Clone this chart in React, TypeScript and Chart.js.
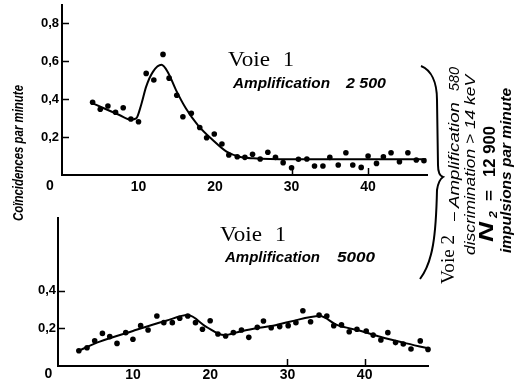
import React, { useEffect, useRef } from "react";
import { Chart, registerables } from "chart.js";

Chart.register(...registerables);

// ---------- Data ----------
// Top panel: Voie 1, Amplification 2 500
const topPointsX = [4, 5, 6, 7, 8, 9, 10, 11, 12, 13.2, 14, 15, 15.8, 16.9, 18, 18.9, 19.9, 20.9, 21.8, 22.9, 23.9, 24.9,
  25.9, 26.9, 27.9, 28.9, 30, 30.9, 32, 33, 34.1, 35, 36.1, 37.1, 38, 39.1, 40, 41.1, 42, 43, 44.1, 45.2, 46.3, 47.3];
const topPointsY = [0.383, 0.346, 0.363, 0.33, 0.354, 0.295, 0.28, 0.535, 0.5, 0.635, 0.51, 0.42, 0.307, 0.325, 0.25, 0.196, 0.216, 0.163, 0.105, 0.096, 0.093, 0.109,
  0.084, 0.12, 0.093, 0.065, 0.038, 0.083, 0.084, 0.047, 0.047, 0.093, 0.053, 0.117, 0.053, 0.04, 0.1, 0.061, 0.096, 0.117, 0.07, 0.117, 0.079, 0.075];
const topFitX = [4, 7.5, 9, 9.7, 10.35, 11, 11.9, 13, 13.8, 14.9, 16.2, 17.75, 19.7, 21.5, 23.2, 25, 30, 47.6];
const topFitY = [0.377, 0.316, 0.292, 0.298, 0.37, 0.465, 0.544, 0.58, 0.544, 0.447, 0.35, 0.263, 0.184, 0.123, 0.096, 0.088, 0.083, 0.083];

// Bottom panel: Voie 1, Amplification 5000
const botPointsX = [3, 4.06, 5.05, 6.05, 7, 7.94, 9.07, 10, 11, 11.96, 13.1, 14, 15.1, 16.06, 17.1, 18.1, 19, 20, 21, 22, 23, 24.05, 25, 26.1,
  26.9, 27.9, 29, 30.1, 31.1, 32, 33, 34.1, 35.1, 36, 37, 38, 39, 40.2, 41.1, 42.1, 43, 44, 45, 46, 47.2, 48.2];
const botPointsY = [0.081, 0.097, 0.134, 0.173, 0.156, 0.12, 0.177, 0.142, 0.214, 0.191, 0.265, 0.23, 0.23, 0.253, 0.265, 0.23, 0.195, 0.24, 0.17, 0.159, 0.177, 0.191, 0.152, 0.205,
  0.239, 0.203, 0.209, 0.214, 0.23, 0.293, 0.235, 0.27, 0.265, 0.214, 0.218, 0.182, 0.195, 0.186, 0.164, 0.138, 0.177, 0.124, 0.117, 0.09, 0.133, 0.088];
const botFitX = [2.8, 5.7, 10, 14.3, 17.1, 19.5, 21.8, 23.8, 26, 27.9, 30.3, 34.2, 36.4, 39.4, 42, 45, 48.2];
const botFitY = [0.078, 0.129, 0.186, 0.24, 0.27, 0.208, 0.164, 0.182, 0.2, 0.212, 0.235, 0.265, 0.218, 0.187, 0.155, 0.124, 0.094];

// Tick labels
const xTickValues = [10, 20, 30, 40];
const xTickMarkValues = [30, 40];
const topYTickValues = [0.2, 0.4, 0.6, 0.8];
const botYTickValues = [0.2, 0.4];

const tickFont = { family: "Liberation Sans", size: 13, weight: "bold" as const };

const tickMarks = {
  id: "tickMarks",
  afterDraw(chart: any, _args: any, opts: any) {
    const { ctx, chartArea, scales } = chart;
    const x = scales.x;
    const y = scales.y;
    ctx.save();
    ctx.strokeStyle = "#000";
    ctx.lineWidth = 1.5;
    ctx.beginPath();
    (opts.yTicks || []).forEach((v: number) => {
      const py = Math.round(y.getPixelForValue(v)) + 0.5;
      ctx.moveTo(chartArea.left, py);
      ctx.lineTo(chartArea.left + 7, py);
    });
    (opts.xTicks || []).forEach((v: number) => {
      const px = Math.round(x.getPixelForValue(v)) + 0.5;
      ctx.moveTo(px, chartArea.bottom);
      ctx.lineTo(px, chartArea.bottom - 7);
    });
    ctx.stroke();
    ctx.restore();
  },
};

function buildConfig(p: {
  px: number[]; py: number[]; fx: number[]; fy: number[];
  xMin: number; xMax: number; yMax: number; yTicks: number[];
  yAxisWidth: number; xAxisHeight: number; padTop: number; padRight: number;
  xLabelPad: number; yLabelPad: number;
}): any {
  return {
    type: "scatter",
    data: {
      datasets: [
        {
          data: p.fx.map((x, i) => ({ x, y: p.fy[i] })),
          showLine: true,
          pointRadius: 0,
          borderColor: "#000",
          borderWidth: 2,
          tension: 0.4,
          cubicInterpolationMode: "monotone",
          clip: false,
        },
        {
          data: p.px.map((x, i) => ({ x, y: p.py[i] })),
          showLine: false,
          pointRadius: 2.8,
          pointBackgroundColor: "#000",
          pointBorderWidth: 0,
          clip: false,
        },
      ],
    },
    options: {
      responsive: false,
      animation: false,
      events: [],
      layout: { padding: { left: 0, top: p.padTop, right: p.padRight, bottom: 0 } },
      plugins: {
        legend: { display: false },
        tooltip: { enabled: false },
        tickMarks: { yTicks: p.yTicks, xTicks: xTickMarkValues },
      },
      scales: {
        x: {
          type: "linear",
          min: p.xMin,
          max: p.xMax,
          grid: { display: false, drawTicks: false },
          border: { display: true, color: "#000", width: 2 },
          afterBuildTicks: (s: any) => { s.ticks = xTickValues.map((v) => ({ value: v })); },
          afterFit: (s: any) => { s.height = p.xAxisHeight; s.paddingLeft = 0; s.paddingRight = 0; },
          ticks: {
            color: "#000",
            font: { ...tickFont, size: 14 },
            padding: p.xLabelPad,
            maxRotation: 0,
            autoSkip: false,
            callback: (v: number) => String(v),
          },
        },
        y: {
          type: "linear",
          min: 0,
          max: p.yMax,
          grid: { display: false, drawTicks: false },
          border: { display: true, color: "#000", width: 2 },
          afterBuildTicks: (s: any) => { s.ticks = p.yTicks.map((v) => ({ value: v })); },
          afterFit: (s: any) => { s.width = p.yAxisWidth; s.paddingTop = 0; s.paddingBottom = 0; },
          ticks: {
            color: "#000",
            font: tickFont,
            padding: p.yLabelPad,
            autoSkip: false,
            callback: (v: number) => v.toFixed(1).replace(".", ","),
          },
        },
      },
    },
    plugins: [tickMarks],
  };
}

const sans = "Liberation Sans";
const serif = "Liberation Serif";

export default function App() {
  const topRef = useRef<HTMLCanvasElement>(null);
  const botRef = useRef<HTMLCanvasElement>(null);

  useEffect(() => {
    const c1 = new Chart(topRef.current as HTMLCanvasElement, buildConfig({
      px: topPointsX, py: topPointsY, fx: topFitX, fy: topFitY,
      xMin: 0, xMax: 47.7, yMax: 0.895, yTicks: topYTickValues,
      yAxisWidth: 62, xAxisHeight: 25, padTop: 5, padRight: 90, xLabelPad: 4, yLabelPad: 3,
    }));
    const c2 = new Chart(botRef.current as HTMLCanvasElement, buildConfig({
      px: botPointsX, py: botPointsY, fx: botFitX, fy: botFitY,
      xMin: 0.3, xMax: 48.2, yMax: 0.785, yTicks: botYTickValues,
      yAxisWidth: 58, xAxisHeight: 20, padTop: 18, padRight: 89, xLabelPad: 1, yLabelPad: 2,
    }));
    return () => { c1.destroy(); c2.destroy(); };
  }, []);

  const it = { fontFamily: sans, fontStyle: "italic", fill: "#000" } as const;

  return (
    <div style={{ position: "absolute", left: 0, top: 0, width: 517, height: 386, background: "#fff", overflow: "hidden" }}>
      <canvas ref={topRef} width={517} height={200} style={{ position: "absolute", left: 0, top: 0, width: 517, height: 200 }} />
      <canvas ref={botRef} width={517} height={186} style={{ position: "absolute", left: 0, top: 200, width: 517, height: 186 }} />
      <svg width={517} height={386} style={{ position: "absolute", left: 0, top: 0, pointerEvents: "none" }}>
        {/* corner zeros */}
        <text x={50} y={190} fontFamily={sans} fontWeight="bold" fontSize={14} textAnchor="middle" fill="#000">0</text>
        <text x={48.5} y={378} fontFamily={sans} fontWeight="bold" fontSize={14} textAnchor="middle" fill="#000">0</text>

        {/* top panel titles */}
        <text x={228} y={66} fontFamily={serif} fontSize={22} fill="#000" textLength={42} lengthAdjust="spacingAndGlyphs">Voie</text>
        <text x={283} y={66} fontFamily={serif} fontSize={22} fill="#000">1</text>
        <text x={233} y={88} {...it} fontWeight="bold" fontSize={14} textLength={97} lengthAdjust="spacingAndGlyphs">Amplification</text>
        <text x={346} y={88} {...it} fontWeight="bold" fontSize={14} textLength={40} lengthAdjust="spacingAndGlyphs">2 500</text>

        {/* bottom panel titles */}
        <text x={220} y={241} fontFamily={serif} fontSize={22} fill="#000" textLength={42} lengthAdjust="spacingAndGlyphs">Voie</text>
        <text x={275} y={241} fontFamily={serif} fontSize={22} fill="#000">1</text>
        <text x={225} y={262} {...it} fontWeight="bold" fontSize={14} textLength={95} lengthAdjust="spacingAndGlyphs">Amplification</text>
        <text x={337} y={262} {...it} fontWeight="bold" fontSize={14} textLength={38} lengthAdjust="spacingAndGlyphs">5000</text>

        {/* y axis label */}
        <text transform="translate(23,221) rotate(-90)" {...it} fontWeight="bold" fontSize={14} textLength={136} lengthAdjust="spacingAndGlyphs">Coïncidences par minute</text>

        {/* brace */}
        <path d="M 421 66 C 431 70, 437 82, 437 100 L 438 165 C 438 172, 440 176, 443 177 C 440 179, 438 183, 437 190 C 436 235, 433 262, 420 279"
          fill="none" stroke="#000" strokeWidth={2} />

        {/* right-side annotation */}
        <text transform="translate(454,284) rotate(-90)" fontFamily={serif} fontSize={19} fill="#000" textLength={49} lengthAdjust="spacingAndGlyphs">Voie 2</text>
        <text transform="translate(458,221) rotate(-90)" {...it} fontSize={14} textLength={9} lengthAdjust="spacingAndGlyphs">–</text>
        <text transform="translate(459,208) rotate(-90)" {...it} fontSize={15} textLength={106} lengthAdjust="spacingAndGlyphs">Amplification</text>
        <text transform="translate(459,91) rotate(-90)" {...it} fontSize={15} textLength={24} lengthAdjust="spacingAndGlyphs">580</text>
        <text transform="translate(475,255) rotate(-90)" {...it} fontSize={14} textLength={180} lengthAdjust="spacingAndGlyphs">discrimination &gt; 14 keV</text>
        <text transform="translate(493,242) rotate(-90)" {...it} fontWeight="bold" fontSize={21} textLength={20} lengthAdjust="spacingAndGlyphs">N</text>
        <text transform="translate(497,218) rotate(-90)" {...it} fontWeight="bold" fontSize={11} textLength={7} lengthAdjust="spacingAndGlyphs">2</text>
        <text transform="translate(494,201) rotate(-90)" fontFamily={sans} fontWeight="bold" fontSize={15} fill="#000" textLength={11} lengthAdjust="spacingAndGlyphs">=</text>
        <text transform="translate(495,177) rotate(-90)" fontFamily={sans} fontWeight="bold" fontSize={17} fill="#000" textLength={51} lengthAdjust="spacingAndGlyphs">12 900</text>
        <text transform="translate(511,253) rotate(-90)" {...it} fontWeight="bold" fontSize={14} textLength={165} lengthAdjust="spacingAndGlyphs">impulsions par minute</text>
      </svg>
    </div>
  );
}
